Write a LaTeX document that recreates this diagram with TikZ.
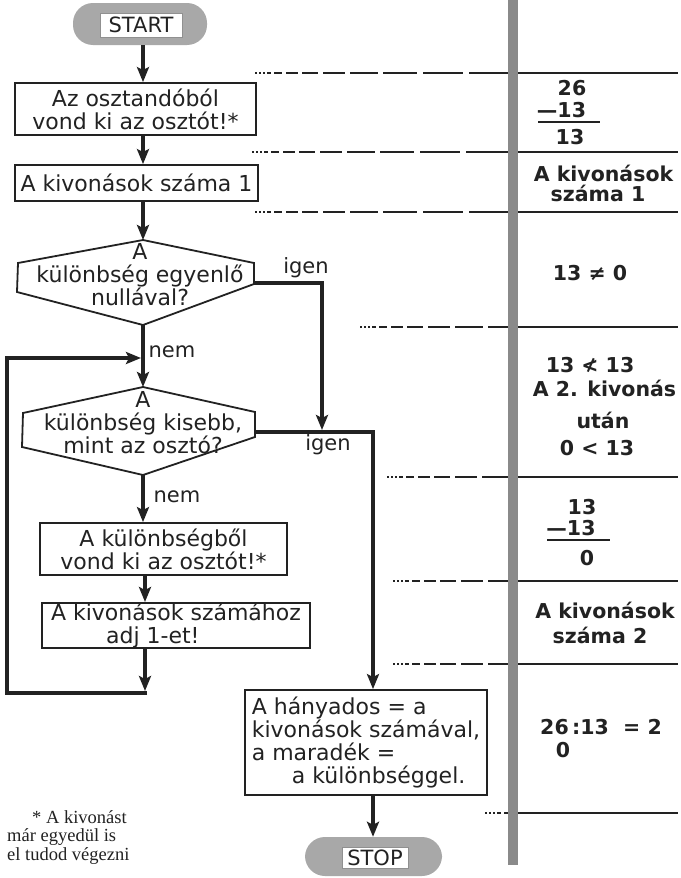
\documentclass[tikz,border=0pt]{standalone}
\usepackage{fontspec}
\setmainfont{DejaVu Sans}
\newfontfamily\notefont{Liberation Serif}
\usetikzlibrary{arrows.meta}
\definecolor{ink}{HTML}{222222}
\definecolor{barc}{HTML}{8A8A8A}
\definecolor{termc}{HTML}{A8A8A8}
\begin{document}
\begin{tikzpicture}[x=1pt,y=-1pt,
  txt/.style={font=\fontsize{22}{23}\selectfont, text=ink, inner sep=0pt, align=center},
  rtxt/.style={font=\fontsize{20.5}{22}\selectfont\bfseries, text=ink, inner sep=0pt},
  lbl/.style={font=\fontsize{21}{23}\selectfont, text=ink, inner sep=0pt},
  box/.style={draw=ink, line width=1.8pt, fill=white, inner sep=0pt, align=center,
    font=\fontsize{22}{23}\selectfont, text=ink},
  decshape/.style={draw=ink, line width=1.8pt, fill=white, line join=miter},
  flow/.style={draw=ink, line width=4pt, line join=miter,
    -{Stealth[length=15pt,width=12pt,inset=3pt]}},
  sep/.style={draw=ink, line width=1.3pt},
  sepdash/.style={sep, dash pattern=on 1.5pt off 2.5pt on 1.5pt off 2.5pt on 1.5pt off 2.5pt
    on 4pt off 3pt on 8pt off 4pt on 12pt off 4pt on 16pt off 5pt on 22pt off 5pt
    on 28pt off 5pt on 34pt off 6pt on 40pt off 6pt on 60pt off 6pt},
  termshape/.style={rectangle, fill=termc, draw=none, rounded corners=20pt},
  tlabel/.style={rectangle, fill=white, draw=ink!50, line width=0.6pt, inner sep=0pt,
    font=\fontsize{21}{23}\selectfont, text=ink},
  note/.style={font=\notefont\fontsize{18.5}{18.5}\selectfont, text=ink, inner sep=0pt,
    align=left, anchor=north west}
]
\useasboundingbox (0,0) rectangle (680,878);
\fill[white] (0,0) rectangle (680,878);

% right column bar and separators
\fill[barc] (508,0) rectangle (518,865);
\foreach \yy/\xx in {73/255,152/252,212/255,327/360,477/387,581/393,664/393,813/485} {
  \draw[sepdash] (\xx,\yy) -- (508,\yy);
  \draw[sep] (518,\yy) -- (678,\yy);
}

% helper x positions
\coordinate (ax) at (143,0);
\coordinate (lx) at (145,0);

% terminals
\node[termshape, minimum width=134pt, minimum height=42pt] (start) at (140,24) {};
\node[tlabel, minimum width=82pt, minimum height=24pt] (startl) at (141,25) {START};
\node[termshape, minimum width=137pt, minimum height=39pt] (stop) at (373.5,856.5) {};
\node[tlabel, minimum width=66pt, minimum height=21pt] (stopl) at (375,858) {STOP};

% process boxes
\node[box, minimum width=241pt, minimum height=52pt] (b1) at (135.5,109)
  {Az osztandóból\\vond ki az osztót!*};
\node[box, minimum width=243pt, minimum height=36pt] (b2) at (136.5,183)
  {A kivonások száma 1};
\node[box, minimum width=247pt, minimum height=52pt] (b3) at (163.5,549)
  {A különbségből\\vond ki az osztót!*};
\node[box, minimum width=268pt, minimum height=45pt, align=left] (b4) at (176,625.5)
  {A kivonások számához\\\hspace{55pt}adj 1-et!};
\node[box, minimum width=242pt, minimum height=105pt, align=left] (fin) at (366,742.5)
  {A hányados = a\\kivonások számával,\\a maradék =\\\hspace{40pt}a különbséggel.};

% decisions
\coordinate (d1t) at (143,240);
\coordinate (d1r) at (254,283);
\coordinate (d1b) at (143,325);
\draw[decshape] (d1t) -- (254,263) -- (254,284) -- (d1b) -- (17,292) -- (18,263) -- cycle;
\node[txt] (d1txt) at (140,275) {A\\különbség egyenlő\\nullával?};

\coordinate (d2t) at (143,387);
\coordinate (d2r) at (255,432);
\coordinate (d2b) at (143,475);
\draw[decshape] (d2t) -- (255,412) -- (255,437) -- (d2b) -- (22,447) -- (23,413) -- cycle;
\node[txt] (d2txt) at (143,423) {A\\különbség kisebb,\\mint az osztó?};

% connectors
\draw[flow] (start.south -| ax) -- (b1.north -| ax);
\draw[flow] (b1.south -| ax) -- (b2.north -| ax);
\draw[flow] (b2.south -| ax) -- (d1t);
\draw[flow] (d1b) -- (d2t);
\draw[flow] (d2b) -- (b3.north -| ax);
\draw[flow] (b3.south -| lx) -- (b4.north -| lx);
\coordinate (lp1) at (145,691);
\coordinate (lp2) at (147,693);
\coordinate (lp3) at (7,693);
\coordinate (lp4) at (7,358);
\coordinate (jn) at (141,358);
\draw[flow] (b4.south -| lx) -- (lp1);
\draw[flow] (lp2) -- (lp3) -- (lp4) -- (jn);
\coordinate (c3) at (322,283);
\coordinate (j1) at (322,430);
\draw[flow] (d1r) -- (c3) -- (j1);
\coordinate (c4) at (373,432);
\draw[flow] (d2r) -- (c4) -- (fin.north -| c4);
\draw[flow] (fin.south -| c4) -- (stop.north -| c4);

% branch labels
\node[lbl] (igen1) at (306,268) {igen};
\node[lbl] (nem1) at (172,352) {nem};
\node[lbl] (igen2) at (328,445) {igen};
\node[lbl] (nem2) at (177,497) {nem};

% right column texts
\node[rtxt] (r1a) at (572,88) {26};
\node[rtxt] (r1b) at (561.5,110) {—13};
\draw[sep] (538,122) -- (600,122);
\node[rtxt] (r1c) at (570,137) {13};
\node[rtxt] (r2a) at (603.5,173) {A kivonások};
\node[rtxt] (r2b) at (598,193) {száma 1};
\node[rtxt] (r3) at (590,273) {13 ≠ 0};
\node[rtxt] (r4a) at (590,365) {13 ≮ 13};
\node[rtxt] (r4b) at (604.5,388) {A 2. kivonás};
\node[rtxt] (r4c) at (603,420) {után};
\node[rtxt] (r4d) at (597,448) {0 < 13};
\node[rtxt] (r5a) at (582,507) {13};
\node[rtxt] (r5b) at (571,528) {—13};
\draw[sep] (547,540) -- (610,540);
\node[rtxt] (r5c) at (587,558) {0};
\node[rtxt] (r6a) at (605,610) {A kivonások};
\node[rtxt] (r6b) at (600,635) {száma 2};
\node[rtxt] (r7a) at (601,727) {26\,:13\ \ = 2};
\node[rtxt] (r7b) at (563,750) {0};

% footnote
\node[note] (fn) at (7,810) {\hspace{25pt}* A kivonást\\már egyedül is\\el tudod végezni};
\end{tikzpicture}
\end{document}
